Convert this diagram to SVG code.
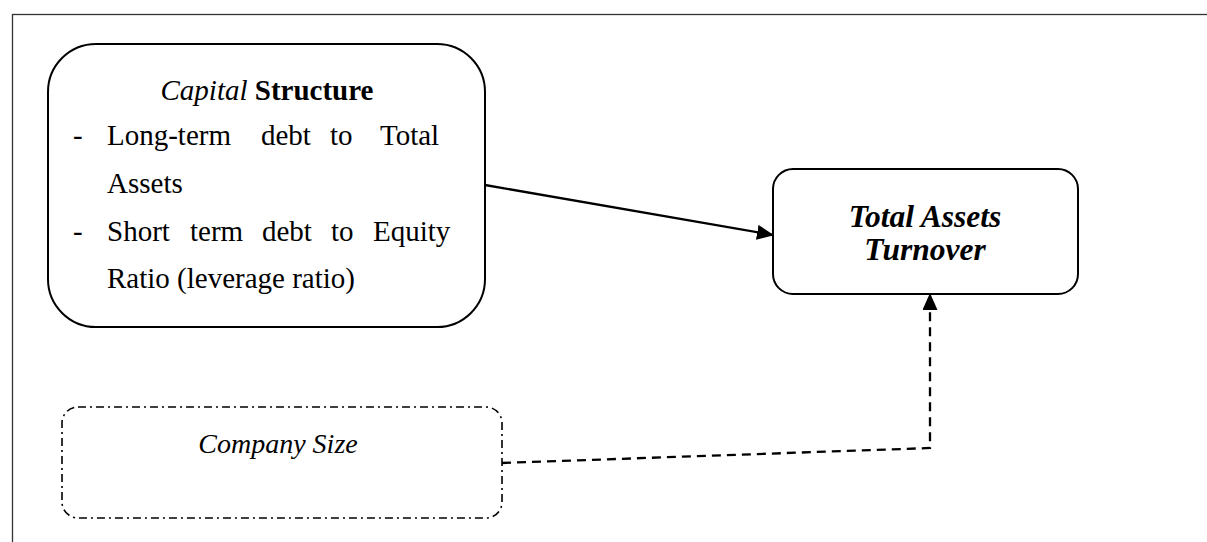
<svg xmlns="http://www.w3.org/2000/svg" width="1207" height="542" viewBox="0 0 1207 542">
<style>
.t{font-family:"Liberation Serif","Times New Roman",serif;fill:#000}
.b{font-size:29px}
.box{fill:#fff;stroke:#000;stroke-width:2}
</style>
<defs>
<marker id="ah" markerWidth="17" markerHeight="15" refX="16" refY="7.5" orient="auto" markerUnits="userSpaceOnUse">
<path d="M0,0 L17,7.5 L0,15 Z" fill="#000"/>
</marker>
</defs>
<rect x="0" y="0" width="1207" height="542" fill="#fff"/>
<rect x="12.5" y="14.5" width="1300" height="600" fill="none" stroke="#333" stroke-width="1.3"/>
<g id="capital">
<rect class="box" x="48" y="44" width="437" height="283" rx="48" ry="48"/>
<text class="t" x="267" y="100" font-size="29" text-anchor="middle"><tspan font-style="italic">Capital</tspan> <tspan font-weight="bold">Structure</tspan></text>
<text class="t b" y="145"><tspan x="73">-</tspan><tspan x="107">Long-term</tspan><tspan x="261">debt</tspan><tspan x="330">to</tspan><tspan x="380">Total</tspan></text>
<text class="t b" x="107" y="193">Assets</text>
<text class="t b" y="241"><tspan x="73">-</tspan><tspan x="107">Short</tspan><tspan x="190">term</tspan><tspan x="262">debt</tspan><tspan x="331">to</tspan><tspan x="373">Equity</tspan></text>
<text class="t b" x="107" y="288">Ratio (leverage ratio)</text>
</g>
<g id="tat">
<rect class="box" x="773" y="169" width="305" height="125" rx="20" ry="20" stroke-width="1.7"/>
<text class="t" x="925" y="227" font-size="31.5" font-weight="bold" font-style="italic" text-anchor="middle">Total Assets</text>
<text class="t" x="925" y="260" font-size="31.5" font-weight="bold" font-style="italic" text-anchor="middle">Turnover</text>
</g>
<g id="size">
<rect x="62" y="407" width="440" height="111" rx="16" ry="16" fill="#fff" stroke="#000" stroke-width="1.6" stroke-dasharray="8,4,2,4"/>
<text class="t" x="278" y="453" font-size="28" font-style="italic" text-anchor="middle">Company Size</text>
</g>
<g id="connectors">
<line x1="485" y1="185" x2="773" y2="235" stroke="#000" stroke-width="2.3" marker-end="url(#ah)"/>
<polyline points="502,463 930,448 930,294" fill="none" stroke="#000" stroke-width="2.3" stroke-dasharray="9,6" marker-end="url(#ah)"/>
</g>
</svg>
